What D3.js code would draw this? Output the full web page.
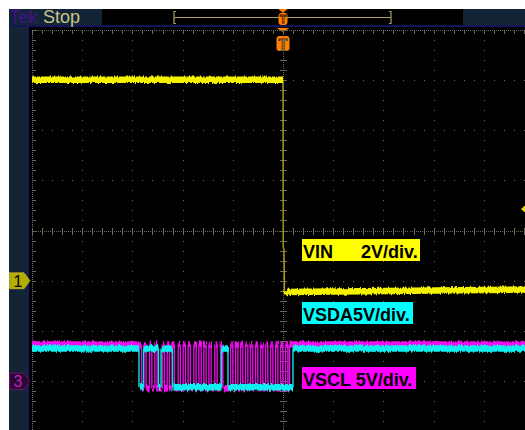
<!DOCTYPE html>
<html><head><meta charset="utf-8">
<script src="https://cdn.jsdelivr.net/npm/d3@7"></script>
<style>html,body{margin:0;padding:0;background:#fff;}svg{display:block}</style>
</head><body><div id="scope"></div>
<script>
// ---- graticule: time in divisions around the trigger, 10 x 8 divisions ----
const timeDomain = [-5, 5];
const vertDomain = [4, -4];
const minorStep = 0.2;

// ---- channel settings (V/div, ground offset in divisions) ----
const ch1Scale = 2,  ch1Offset = -1;   // VIN
const ch3Scale = 5,  ch3Offset = -3;   // VSDA / VSCL

// ---- VIN (CH1): time [div], volts ----
const vinTime  = [-5, 0, 0.004, 0.02, 0.03, 0.06, 5];
const vinVolts = [8.0, 8.0, 1.35, 1.25, -0.5, -0.45, -0.35];

// ---- I2C bus: logic levels [V] ----
const sclHigh = 3.65, sclLow = -0.7;
const sdaHigh = 3.25, sdaLow = -0.6;

// SCL clock pulses (centre time of each high pulse, div) and pulse width
const sclStartFall = -2.819;
const sclPulses = [-2.749, -2.635, -2.530, -2.384, -2.285, -2.185, -2.066, -1.966, -1.867,
                   -1.753, -1.653, -1.554, -1.454, -1.335, -1.221, -1.022, -0.922, -0.823,
                   -0.723, -0.624, -0.524, -0.424, -0.325, -0.225, -0.125, -0.026, 0.074];
const sclPulseWidth = 0.045;
const sclStopRise = 0.129;

// SDA transitions (div), starting high
const sdaEdges = [-2.869, -2.779, -2.480, -2.430, -2.201, -1.225, -1.096, 0.199];

// ---- labels ----
const labels = [
  {name: "VIN",  scale: "2V/div.", fill: "#ffff00"},
  {name: "VSDA", scale: "5V/div.", fill: "#00ffff"},
  {name: "VSCL", scale: "5V/div.", fill: "#ff00ff"}
];

const W = 525, H = 430;
const svg = d3.select("#scope").append("svg").attr("width", W).attr("height", H);
const x = d3.scaleLinear().domain(timeDomain).range([32, 534]);
const y = d3.scaleLinear().domain(vertDomain).range([29.5, 431.5]);

const defs = svg.append("defs");
const f = defs.append("filter").attr("id", "jitter").attr("filterUnits", "userSpaceOnUse")
  .attr("x", 0).attr("y", 0).attr("width", W).attr("height", H);
f.append("feTurbulence").attr("type", "fractalNoise").attr("baseFrequency", "0.7 0.03")
  .attr("numOctaves", 2).attr("seed", 4).attr("result", "n");
f.append("feDisplacementMap").attr("in", "SourceGraphic").attr("in2", "n")
  .attr("scale", 4).attr("xChannelSelector", "G").attr("yChannelSelector", "R");

// frame
svg.append("rect").attr("width", W).attr("height", H).attr("fill", "#fff");
svg.append("rect").attr("x", 9).attr("y", 9).attr("width", W - 9).attr("height", H - 9).attr("fill", "#142437");
svg.append("rect").attr("x", 102).attr("y", 9).attr("width", 361).attr("height", 16).attr("fill", "#000");
svg.append("rect").attr("x", 9).attr("y", 25).attr("width", W - 9).attr("height", 2).attr("fill", "#141458");
svg.append("rect").attr("x", 27.5).attr("y", 25).attr("width", 1.5).attr("height", H - 25).attr("fill", "#181860");
svg.append("rect").attr("x", 29).attr("y", 27).attr("width", W - 29).attr("height", H - 27).attr("fill", "#000");

// status text
svg.append("text").attr("x", 9.5).attr("y", 23).attr("font-family", "Liberation Sans, Arial, sans-serif")
  .attr("font-size", 18).attr("fill", "#42128e").text("Tek");
svg.append("text").attr("x", 43).attr("y", 23).attr("font-family", "Liberation Sans, Arial, sans-serif")
  .attr("font-size", 18).attr("fill", "#c8c48c").text("Stop");

// record-position bracket in the status bar
const bar = svg.append("g").attr("stroke", "#a8a060").attr("fill", "none").attr("stroke-width", 1.2);
bar.append("path").attr("d", "M176,11.5H174V23.5H176M389,11.5H391V23.5H389");
bar.append("line").attr("x1", 174).attr("x2", 391).attr("y1", 17.5).attr("y2", 17.5);

// trigger position markers
function triggerMark(cx, top, w, h, fs) {
  const g = svg.append("g");
  g.append("path").attr("d", `M${cx - w / 2},${top}H${cx + w / 2}L${cx},${top + 4}Z`).attr("fill", "#ff8000");
  g.append("rect").attr("x", cx - w / 2).attr("y", top + (h > 14 ? 8 : 4)).attr("width", w)
    .attr("height", h).attr("rx", 3).attr("fill", "#ff8000");
  g.append("text").attr("x", cx).attr("y", top + (h > 14 ? 8 : 4) + h - 2.5).attr("text-anchor", "middle")
    .attr("font-family", "Liberation Sans, Arial, sans-serif").attr("font-weight", "bold").attr("font-size", fs)
    .attr("fill", "#ff8a20").attr("stroke", "#3a1a00").attr("stroke-width", 0.8).text("T");
}
triggerMark(x(0), 9, 9, 12, 11);
triggerMark(x(0), 28, 13, 15, 14);

// graticule
const grid = svg.append("g").attr("fill", "#6b6b5a");
const dot = (px, py) => grid.append("rect").attr("x", Math.round(px)).attr("y", Math.round(py)).attr("width", 1).attr("height", 1);
const minorT = d3.range(timeDomain[0], timeDomain[1] + 1e-9, minorStep);
const minorV = d3.range(vertDomain[1], vertDomain[0] + 1e-9, minorStep);
const fineT = d3.range(timeDomain[0], timeDomain[1] + 1e-9, 0.04);
const fineV = d3.range(vertDomain[1], vertDomain[0] + 1e-9, 0.04);
d3.range(-4, 5).filter(t => t !== 0).forEach(t => minorV.forEach(v => dot(x(t), y(v))));
d3.range(-3, 4).filter(v => v !== 0).forEach(v => minorT.forEach(t => dot(x(t), y(v))));
// centre lines and frame edges carry fine dots and minor ticks
fineV.forEach(v => { dot(x(0), y(v)); dot(x(-5), y(v)); });
fineT.forEach(t => { dot(x(t), y(0)); dot(x(t), y(4)); });
minorV.forEach(v => {
  grid.append("rect").attr("x", Math.round(x(0)) - 3).attr("y", Math.round(y(v))).attr("width", 7).attr("height", 1);
  grid.append("rect").attr("x", Math.round(x(-5))).attr("y", Math.round(y(v))).attr("width", 4).attr("height", 1);
});
minorT.forEach(t => {
  grid.append("rect").attr("x", Math.round(x(t))).attr("y", Math.round(y(0)) - 3).attr("width", 1).attr("height", 7);
  grid.append("rect").attr("x", Math.round(x(t))).attr("y", Math.round(y(4))).attr("width", 1).attr("height", 4);
});

// waveform helpers
function toPixels(times, volts, scale, offset) {
  return times.map((t, i) => [x(t), y(offset + volts[i] / scale)]);
}
function stepPoints(edges, startLevel, hi, lo) {
  const tt = [timeDomain[0]], vv = [startLevel ? hi : lo];
  let level = startLevel;
  edges.forEach(e => { tt.push(e); vv.push(level ? hi : lo); level = !level; tt.push(e); vv.push(level ? hi : lo); });
  tt.push(timeDomain[1]); vv.push(level ? hi : lo);
  return [tt, vv];
}
const traceLayer = svg.append("g");
function drawTrace(pts, color, edgeColor, band) {
  let thin = "", thick = "";
  for (let i = 0; i < pts.length - 1; i++) {
    const [x0, y0] = pts[i], [x1, y1] = pts[i + 1];
    const seg = `M${x0},${y0}L${x1},${y1}`;
    if (Math.abs(y1 - y0) <= Math.abs(x1 - x0)) thick += seg; else thin += seg;
  }
  traceLayer.append("path").attr("d", thin).attr("fill", "none").attr("stroke", edgeColor).attr("stroke-width", 1.4);
  traceLayer.append("path").attr("d", thick).attr("fill", "none").attr("stroke", color)
    .attr("stroke-width", band).attr("filter", "url(#jitter)");
}

// SCL edge list from pulse centres
const sclEdges = [sclStartFall];
sclPulses.forEach(c => { sclEdges.push(c - sclPulseWidth / 2, c + sclPulseWidth / 2); });
sclEdges.push(sclStopRise);

const [sclT, sclV] = stepPoints(sclEdges, true, sclHigh, sclLow);
const [sdaT, sdaV] = stepPoints(sdaEdges, true, sdaHigh, sdaLow);
drawTrace(toPixels(sclT, sclV, ch3Scale, ch3Offset), "#f010f0", "#e010e0", 6.5);
drawTrace(toPixels(sdaT, sdaV, ch3Scale, ch3Offset), "#10f0f0", "#10e0e0", 6.5);
drawTrace(toPixels(vinTime, vinVolts, ch1Scale, ch1Offset), "#f5f200", "#a8a010", 6.5);

// channel ground markers
function chMarker(level, fill, stroke, txtFill, label) {
  const cy = y(level);
  const g = svg.append("g");
  g.append("path").attr("d", `M9.5,${cy - 8}H24L30,${cy}L24,${cy + 8}H9.5Z`).attr("fill", fill)
    .attr("stroke", stroke).attr("stroke-width", 1).attr("stroke-dasharray", "1,1");
  g.append("text").attr("x", 18).attr("y", cy + 6).attr("text-anchor", "middle")
    .attr("font-family", "Liberation Sans, Arial, sans-serif").attr("font-size", 16).attr("fill", txtFill).text(label);
}
chMarker(ch1Offset, "#b4ac00", "#e0dc40", "#000", "1");
chMarker(ch3Offset, "#2a0830", "#c000c0", "#c020c0", "3");

// trigger level marker at the right edge
svg.append("path").attr("d", `M521,209L525,205.5V212.5Z`).attr("fill", "#e8e000");

// channel labels
const labelTop = [239, 302, 367];
labels.forEach((d, i) => {
  const g = svg.append("g");
  const widths = [118, 111, 114];
  g.append("rect").attr("x", 302).attr("y", labelTop[i]).attr("width", widths[i]).attr("height", 22).attr("fill", d.fill);
  const t = g.append("text").attr("x", 303).attr("y", labelTop[i] + 18.5)
    .attr("font-family", "Liberation Sans, Arial, sans-serif").attr("font-weight", "bold")
    .attr("font-size", 18).attr("fill", "#000");
  if (i === 0) { t.append("tspan").text(d.name); t.append("tspan").attr("x", 361).text(d.scale); }
  else if (i === 1) t.text(d.name + d.scale);
  else t.text(d.name + " " + d.scale);
});
</script></body></html>
